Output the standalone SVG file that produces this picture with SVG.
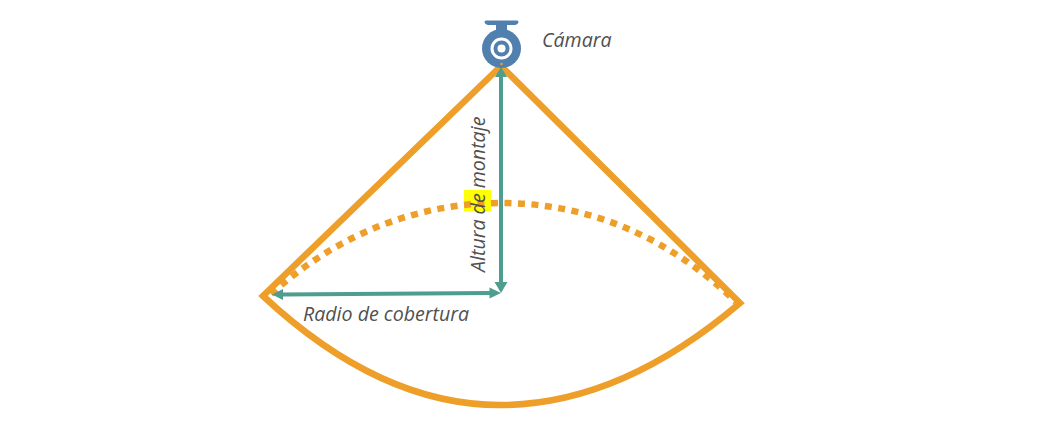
<svg xmlns="http://www.w3.org/2000/svg" width="1037" height="431" viewBox="0 0 1037 431">
<style>
.o{fill:none;stroke:#ED9F2A;stroke-width:6.500}
.t{font-family:"Open Sans","Liberation Sans",sans-serif;font-style:italic;font-size:19.600px;fill:#505050}
.a{fill:none;stroke:#4F9D8F;stroke-width:4}
.h{fill:#4F9D8F}
</style>
<rect width="1037" height="431" fill="#fff"/>
<g id="highlight"><rect x="464" y="190" width="27" height="21" fill="#FFFF00"/></g>
<g id="connectors">
<path class="o" d="M501 66L263 296Q380 405 500 405Q620 405 740 303L501 66Z" stroke-miterlimit="10"/>
<path class="o" d="M271 294C340 232 420 203 501 203C590 203 670 238 736 302" stroke-dasharray="7 6.500"/>
<path class="a" d="M501 76V283"/>
<path class="h" d="M501 67l6 10h-12zM501 293l-6.500-11h13z"/>
<path class="a" d="M282 294.500L491 293"/>
<path class="h" d="M272 294.500l11-5.500v11zM501 293l-11.500 5.500v-11z"/>
</g>
<g id="camera">
<path d="M486 20.500h31q1.500 0 1.500 1.500q-.5 2.500-4 3h-7.500v6h-11v-6h-7.500q-3.500-.5-4-3q0-1.500 1.500-1.500z" fill="#517FAE"/>
<circle cx="501.500" cy="48.500" r="19.500" fill="#517FAE"/>
<circle cx="501.500" cy="48.500" r="9.500" fill="none" stroke="#fff" stroke-width="3"/>
<circle cx="501.500" cy="48.500" r="4" fill="#fff"/>
<circle cx="501.500" cy="64" r="1.300" fill="#ED9F2A"/>
</g>
<g id="labels">
<text class="t" x="542" y="47">Cámara</text>
<text class="t" x="303" y="321">Radio de cobertura</text>
<text class="t" transform="translate(485 272) rotate(-90)">Altura de montaje</text>
</g>
</svg>
